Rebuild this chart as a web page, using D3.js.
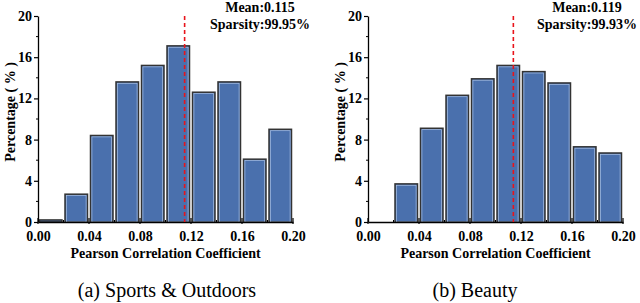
<!DOCTYPE html>
<html>
<head>
<meta charset="utf-8">
<script src="https://cdn.jsdelivr.net/npm/d3@7"></script>
<style>
  body { margin: 0; background: #fff; }
  svg { display: block; }
  svg text { font-family: "Liberation Serif", "Times New Roman", Times, serif; fill: #000; }
  .bold { font-weight: bold; font-size: 14px; }
  .caption { font-size: 20px; }
</style>
</head>
<body>
<div id="chart"></div>
<script>
// histogram bins (lower edge), width 0.02
const binLow = [0.00, 0.02, 0.04, 0.06, 0.08, 0.10, 0.12, 0.14, 0.16, 0.18];
const binWidth = 0.02;

// percentage per bin
const sportsPct = [0.2, 2.7, 8.4, 13.6, 15.2, 17.1, 12.6, 13.6, 6.1, 9.0];
const beautyPct = [0.0, 3.7, 9.1, 12.3, 13.9, 15.2, 14.6, 13.5, 7.3, 6.7];

const xTicks = [0.00, 0.04, 0.08, 0.12, 0.16, 0.20];
const xMinor = [0.02, 0.06, 0.10, 0.14, 0.18];
const yTicks = [0, 4, 8, 12, 16, 20];
const yMinor = [2, 6, 10, 14, 18];

// where the dashed mean line sits, and the printed labels
const meanPos = [0.115, 0.114];
const meanText = ["Mean:0.115", "Mean:0.119"];
const sparsityText = ["Sparsity:99.95%", "Sparsity:99.93%"];
const captions = ["(a) Sports & Outdoors", "(b) Beauty"];

const W = 640, H = 303;
const svg = d3.select("#chart").append("svg")
    .attr("width", W).attr("height", H);

const panels = [
    {values: sportsPct, x0: 38, x1: 293, labelX: 260, yLabelX: 10, captionX: 167},
    {values: beautyPct, x0: 368, x1: 623, labelX: 587, yLabelX: 340, captionX: 475}
];

const yScale = d3.scaleLinear().domain([0, 20]).range([222, 16]);

panels.forEach(function(p, i) {
    const xScale = d3.scaleLinear().domain([0, 0.2]).range([p.x0, p.x1]);
    const g = svg.append("g");
    const bins = binLow.map((b, j) => ({lo: b, v: p.values[j]})).filter(d => d.v > 0);

    // bars
    g.selectAll("rect.bar")
        .data(bins)
        .join("rect")
        .attr("class", "bar")
        .attr("x", d => xScale(d.lo) + 1.5)
        .attr("width", d => xScale(d.lo + binWidth) - xScale(d.lo) - 3)
        .attr("y", d => yScale(d.v))
        .attr("height", d => yScale(0) - yScale(d.v))
        .attr("fill", "#4a70ad")
        .attr("stroke", "#333")
        .attr("stroke-width", 1.5);

    // thin light edge just inside each bar
    g.selectAll("rect.hi")
        .data(bins.filter(d => d.v > 1))
        .join("rect")
        .attr("class", "hi")
        .attr("x", d => xScale(d.lo) + 2.9)
        .attr("width", d => xScale(d.lo + binWidth) - xScale(d.lo) - 5.8)
        .attr("y", d => yScale(d.v) + 1.4)
        .attr("height", d => yScale(0) - yScale(d.v) - 1.4)
        .attr("fill", "none")
        .attr("stroke", "#a9bfe2")
        .attr("stroke-width", 0.7);

    // x axis
    const xAxis = g.append("g")
        .attr("transform", `translate(0,${yScale(0)})`)
        .call(d3.axisBottom(xScale).tickValues(xTicks).tickSize(0).tickPadding(9)
            .tickFormat(d3.format(".2f")));
    xAxis.attr("font-family", null).attr("font-size", null);
    xAxis.select(".domain").attr("stroke", "#000").attr("stroke-width", 1.3);
    xAxis.selectAll("text").attr("class", "bold");
    g.selectAll("line.xt")
        .data(xTicks)
        .join("line")
        .attr("x1", d => xScale(d)).attr("x2", d => xScale(d))
        .attr("y1", yScale(0) - 4).attr("y2", yScale(0) + 2)
        .attr("stroke", "#000").attr("stroke-width", 1.2);
    g.selectAll("line.xm")
        .data(xMinor)
        .join("line")
        .attr("x1", d => xScale(d)).attr("x2", d => xScale(d))
        .attr("y1", yScale(0) - 2).attr("y2", yScale(0))
        .attr("stroke", "#000").attr("stroke-width", 1);

    // y axis
    const yAxis = g.append("g")
        .attr("transform", `translate(${p.x0},0)`)
        .call(d3.axisLeft(yScale).tickValues(yTicks).tickSize(4).tickSizeOuter(0).tickPadding(2));
    yAxis.attr("font-family", null).attr("font-size", null);
    yAxis.select(".domain").attr("stroke", "#000").attr("stroke-width", 1.3);
    yAxis.selectAll(".tick line").attr("stroke", "#000").attr("stroke-width", 1.2);
    yAxis.selectAll("text").attr("class", "bold");
    g.selectAll("line.ym")
        .data(yMinor)
        .join("line")
        .attr("x1", p.x0 - 2).attr("x2", p.x0)
        .attr("y1", d => yScale(d)).attr("y2", d => yScale(d))
        .attr("stroke", "#000").attr("stroke-width", 1);

    // mean line
    g.append("line")
        .attr("x1", xScale(meanPos[i])).attr("x2", xScale(meanPos[i]))
        .attr("y1", yScale(20)).attr("y2", yScale(0))
        .attr("stroke", "#e8141b")
        .attr("stroke-width", 1.6)
        .attr("stroke-dasharray", "4,3");

    // labels
    g.append("text")
        .attr("class", "bold")
        .attr("x", p.labelX).attr("y", 12)
        .attr("text-anchor", "middle")
        .text(meanText[i]);
    g.append("text")
        .attr("class", "bold")
        .attr("x", p.labelX).attr("y", 29)
        .attr("text-anchor", "middle")
        .text(sparsityText[i]);

    g.append("text")
        .attr("class", "bold")
        .attr("x", (p.x0 + p.x1) / 2).attr("y", 258)
        .attr("text-anchor", "middle")
        .text("Pearson Correlation Coefficient");

    g.append("text")
        .attr("class", "bold")
        .attr("transform", `translate(${p.yLabelX + 5},112) rotate(-90)`)
        .attr("text-anchor", "middle")
        .text("Percentage ( % )");

    g.append("text")
        .attr("class", "caption")
        .attr("x", p.captionX).attr("y", 297)
        .attr("text-anchor", "middle")
        .text(captions[i]);
});
</script>
</body>
</html>
